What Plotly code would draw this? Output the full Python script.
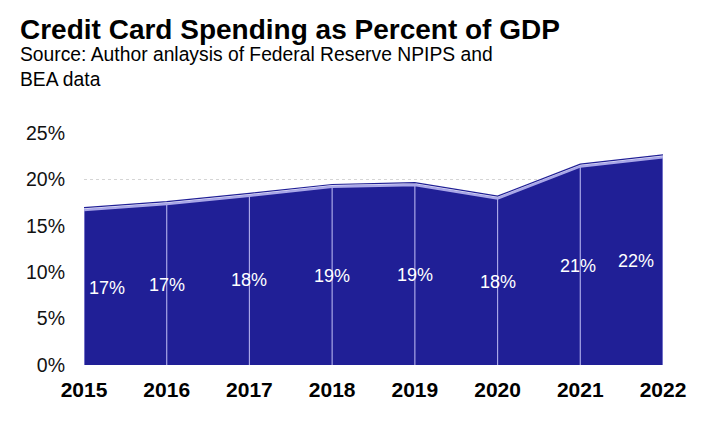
import plotly.graph_objects as go

years = [2015, 2016, 2017, 2018, 2019, 2020, 2021, 2022]
share = [16.7, 17.35, 18.25, 19.2, 19.4, 17.95, 21.4, 22.4]
labels = ["17%", "17%", "18%", "19%", "19%", "18%", "21%", "22%"]
y_ticks = [0, 5, 10, 15, 20, 25]

NAVY = "#201F96"
LAV = "#A9A7E8"
FONT = "Liberation Sans, Arial"

fig = go.Figure()

# area
fig.add_trace(go.Scatter(
    x=years, y=share, mode="lines", fill="tozeroy",
    fillcolor=NAVY, line=dict(color=LAV, width=2.5),
    hoverinfo="skip",
))
# thin dark edge on top of the outline
fig.add_trace(go.Scatter(
    x=years, y=[v + 0.25 for v in share], mode="lines",
    line=dict(color=NAVY, width=1.2), hoverinfo="skip",
))

# drop lines at each year
vx, vy = [], []
for yr, v in zip(years, share):
    vx += [yr, yr, None]
    vy += [0, v, None]
fig.add_trace(go.Scatter(
    x=vx, y=vy, mode="lines", line=dict(color=LAV, width=1.2),
    hoverinfo="skip",
))

# page body adds 8px, so the figure is a bit smaller than the window
W, H = 715, 417
ML, MR, MT, MB = 76, 60, 125, 60
plot_w = W - ML - MR
plot_h = H - MT - MB

# value labels, about halfway up; the end ones nudged inwards
shifts = [23, 0, 0, 0, 0, 0, -2, -27]
annots = [
    dict(x=yr, y=v / 2, text=lab, showarrow=False, xshift=s,
         font=dict(family=FONT, size=18, color="white"))
    for yr, v, lab, s in zip(years, share, labels, shifts)
]

annots += [
    dict(text="<b>Credit Card Spending as Percent of GDP</b>",
         xref="paper", yref="paper", x=(10 - ML) / plot_w, y=1 + (MT - 39) / plot_h,
         xanchor="left", yanchor="bottom", showarrow=False,
         font=dict(size=28, color="black")),
    dict(text="Source: Author anlaysis of Federal Reserve NPIPS and<br>BEA data",
         xref="paper", yref="paper", x=(10 - ML) / plot_w, y=1 + (MT - 84) / plot_h,
         xanchor="left", yanchor="bottom", showarrow=False, align="left",
         font=dict(size=19.3, color="black")),
]

fig.update_layout(
    width=W, height=H,
    margin=dict(l=ML, r=MR, t=MT, b=MB, autoexpand=False),
    paper_bgcolor="white", plot_bgcolor="white",
    showlegend=False,
    font=dict(family=FONT, color="#111111"),
    annotations=annots,
)
fig.update_xaxes(
    range=[2015, 2022], tickvals=years, ticktext=[f"<b>{y}</b>" for y in years],
    showgrid=False, zeroline=False, showline=False, automargin=False,
    tickfont=dict(size=21, color="black", family=FONT),
    ticks="", ticklabelstandoff=10,
)
fig.update_yaxes(
    range=[0, 25], tickvals=y_ticks, ticktext=[f"{t}%" for t in y_ticks],
    showgrid=True, gridcolor="#D5D5D5", griddash="dot", gridwidth=1,
    zeroline=False, showline=False, automargin=False,
    tickfont=dict(size=19.5, color="#111111"), ticks="", ticklabelstandoff=18,
)

fig.write_html("out.html")
